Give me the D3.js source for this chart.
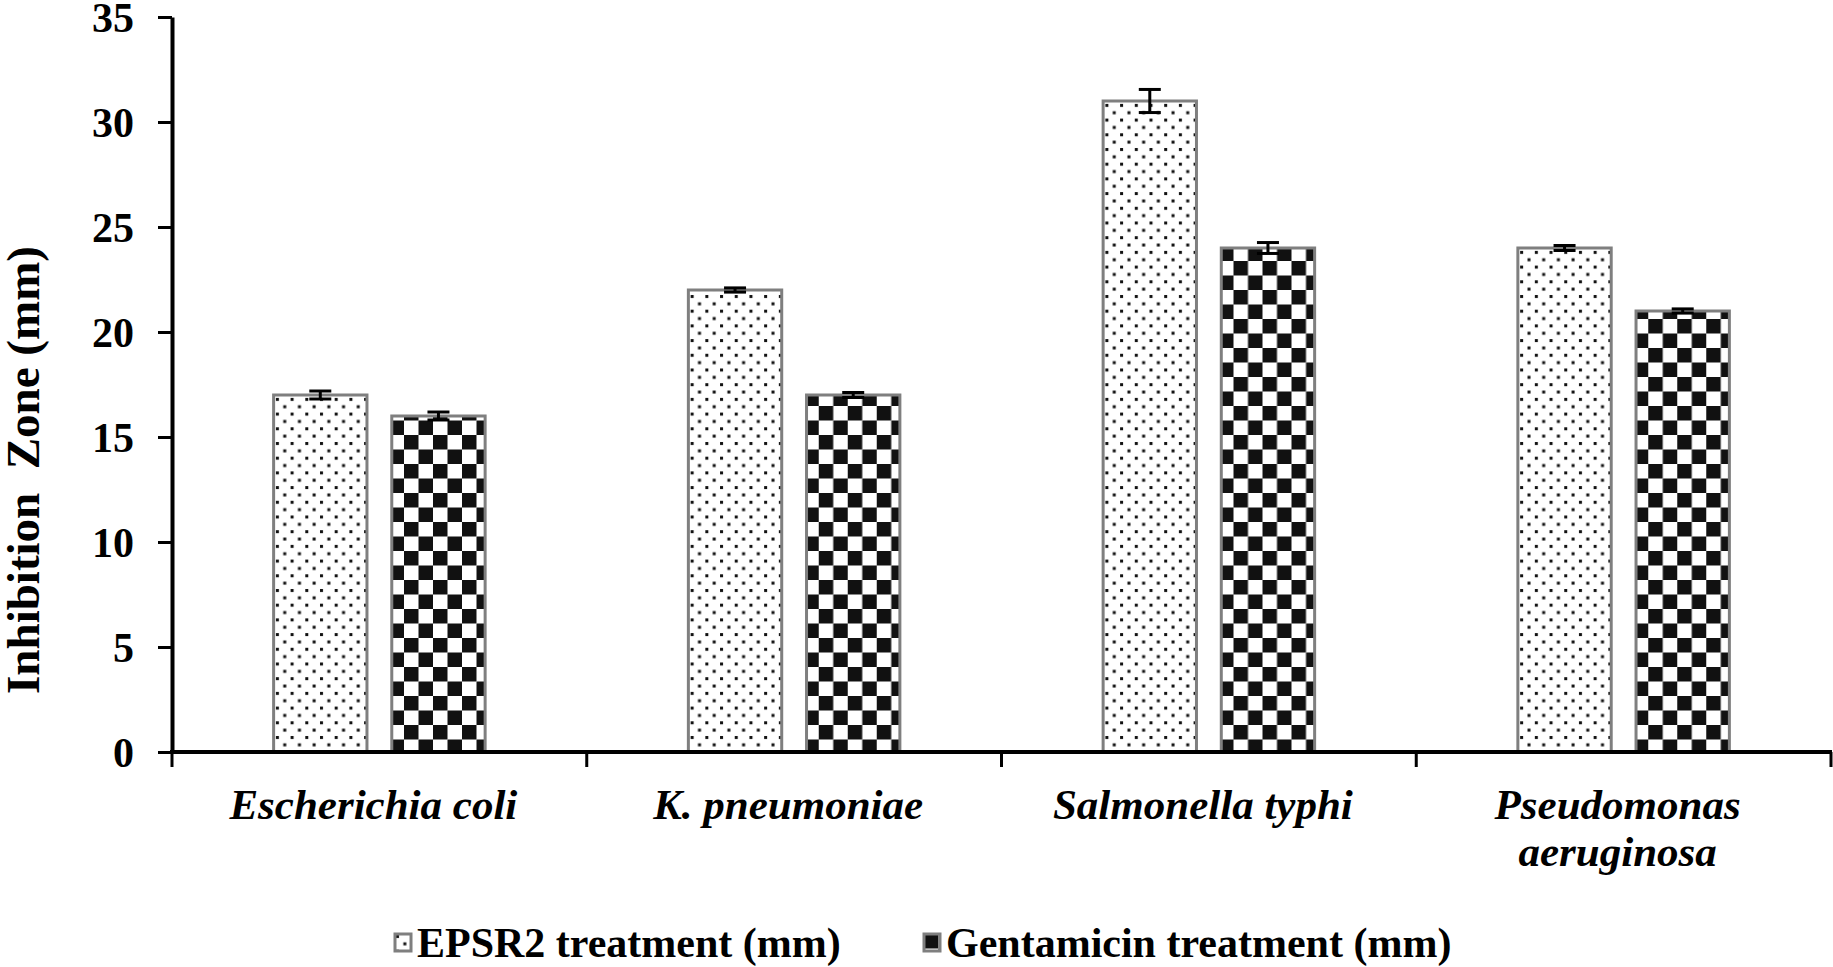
<!DOCTYPE html>
<html>
<head>
<meta charset="utf-8">
<script src="https://cdn.jsdelivr.net/npm/d3@7"></script>
<style>
    body { margin: 0; background: #fff; }
    text { font-family: "Liberation Serif", "Times New Roman", serif; font-weight: bold; fill: #000; }
</style>
</head>
<body>
<div id="chart"></div>
<script>
// chart data
const categories = ["Escherichia coli", "K. pneumoniae", "Salmonella typhi", "Pseudomonas aeruginosa"];
const seriesNames = ["EPSR2 treatment (mm)", "Gentamicin treatment (mm)"];
const epsr2Values = [17, 22, 31, 24];
const epsr2Errors = [0.19, 0.1, 0.55, 0.12];
const gentamicinValues = [16, 17, 24, 21];
const gentamicinErrors = [0.19, 0.12, 0.26, 0.1];
const yTicks = [0, 5, 10, 15, 20, 25, 30, 35];

const WIDTH = 1833,
    HEIGHT = 967,
    LEFT = 172,
    RIGHT = 1831,
    TOP = 17,
    BOTTOM = 752;

let svg = d3.select("#chart").append("svg")
    .attr("width", WIDTH)
    .attr("height", HEIGHT);

let defs = svg.append("defs");

// dotted pattern for EPSR2
let dots = defs.append("pattern")
    .attr("id", "dots")
    .attr("patternUnits", "userSpaceOnUse")
    .attr("width", 14.7)
    .attr("height", 14.7);
dots.append("rect").attr("width", 14.7).attr("height", 14.7).attr("fill", "#fff");
dots.append("rect").attr("x", 1).attr("y", 1).attr("width", 3).attr("height", 3).attr("fill", "#111");
dots.append("rect").attr("x", 8.35).attr("y", 8.35).attr("width", 3).attr("height", 3).attr("fill", "#111");

// checkerboard for gentamicin
let checker = defs.append("pattern")
    .attr("id", "checker")
    .attr("patternUnits", "userSpaceOnUse")
    .attr("width", 29)
    .attr("height", 29);
checker.append("rect").attr("width", 29).attr("height", 29).attr("fill", "#fff");
checker.append("rect").attr("width", 14.5).attr("height", 14.5).attr("fill", "#111");
checker.append("rect").attr("x", 14.5).attr("y", 14.5).attr("width", 14.5).attr("height", 14.5).attr("fill", "#111");

const fills = ["url(#dots)", "url(#checker)"];

let x0 = d3.scaleBand()
    .domain(categories)
    .range([LEFT, RIGHT])
    .padding(0);

let x1 = d3.scaleBand()
    .domain(seriesNames)
    .range([0, x0.bandwidth()])
    .paddingInner(0.21)
    .paddingOuter(0.86);

let y = d3.scaleLinear()
    .domain([0, 35])
    .range([BOTTOM, TOP]);

let rows = categories.map((c, i) => ({
    cat: c,
    vals: [
        { s: seriesNames[0], v: epsr2Values[i], e: epsr2Errors[i], k: 0 },
        { s: seriesNames[1], v: gentamicinValues[i], e: gentamicinErrors[i], k: 1 }
    ]
}));

// bars
let group = svg.append("g")
    .selectAll("g")
    .data(rows)
    .join("g")
    .attr("transform", d => `translate(${x0(d.cat)},0)`);

group.selectAll("rect")
    .data(d => d.vals)
    .join("rect")
    .attr("x", d => x1(d.s))
    .attr("y", d => y(d.v))
    .attr("width", x1.bandwidth())
    .attr("height", d => y(0) - y(d.v))
    .attr("fill", d => fills[d.k])
    .attr("stroke", "#7f7f7f")
    .attr("stroke-width", 3);

// error bars
let err = group.selectAll("g.err")
    .data(d => d.vals)
    .join("g")
    .attr("class", "err")
    .attr("stroke", "#000")
    .attr("stroke-width", 3);

const CAP = 11;
err.append("line")
    .attr("x1", d => x1(d.s) + x1.bandwidth() / 2)
    .attr("x2", d => x1(d.s) + x1.bandwidth() / 2)
    .attr("y1", d => y(d.v + d.e))
    .attr("y2", d => y(d.v - d.e));
err.append("line")
    .attr("x1", d => x1(d.s) + x1.bandwidth() / 2 - CAP)
    .attr("x2", d => x1(d.s) + x1.bandwidth() / 2 + CAP)
    .attr("y1", d => y(d.v + d.e))
    .attr("y2", d => y(d.v + d.e));
err.append("line")
    .attr("x1", d => x1(d.s) + x1.bandwidth() / 2 - CAP)
    .attr("x2", d => x1(d.s) + x1.bandwidth() / 2 + CAP)
    .attr("y1", d => y(d.v - d.e))
    .attr("y2", d => y(d.v - d.e));

// y axis
let yAxis = svg.append("g")
    .attr("transform", `translate(${LEFT},0)`)
    .call(d3.axisLeft(y).tickValues(yTicks).tickSize(14).tickPadding(24).tickSizeOuter(0));
yAxis.select(".domain").attr("stroke", "#000").attr("stroke-width", 4);
yAxis.selectAll(".tick line").attr("stroke", "#000").attr("stroke-width", 3);
yAxis.selectAll(".tick text")
    .style("font-size", "42px")
    .attr("dy", "0.34em");

// x axis with ticks at category boundaries
let bounds = d3.range(categories.length + 1).map(i => LEFT + i * x0.step());
svg.append("line")
    .attr("x1", LEFT - 2)
    .attr("x2", RIGHT + 1)
    .attr("y1", y(0))
    .attr("y2", y(0))
    .attr("stroke", "#000")
    .attr("stroke-width", 4);
svg.append("g")
    .selectAll("line")
    .data(bounds)
    .join("line")
    .attr("x1", d => d)
    .attr("x2", d => d)
    .attr("y1", y(0))
    .attr("y2", y(0) + 15)
    .attr("stroke", "#000")
    .attr("stroke-width", 3);

// category labels
const labelLines = {
    "Pseudomonas aeruginosa": ["Pseudomonas", "aeruginosa"]
};
svg.append("g")
    .selectAll("text")
    .data(categories)
    .join("text")
    .attr("x", d => x0(d) + x0.bandwidth() / 2 - 6)
    .attr("y", 819)
    .attr("text-anchor", "middle")
    .style("font-size", "43px")
    .style("font-style", "italic")
    .each(function (d) {
        let lines = labelLines[d] || [d];
        d3.select(this).selectAll("tspan")
            .data(lines)
            .join("tspan")
            .attr("x", x0(d) + x0.bandwidth() / 2 - 6)
            .attr("dy", (l, i) => i === 0 ? 0 : 47)
            .text(l => l);
    });

// y axis title
svg.append("text")
    .attr("transform", `translate(39,${470}) rotate(-90)`)
    .attr("text-anchor", "middle")
    .style("font-size", "47px")
    .text("Inhibition\u00a0 Zone (mm)");

// legend
const legendX = [395, 924];
let legend = svg.append("g")
    .selectAll("g")
    .data(seriesNames)
    .join("g")
    .attr("transform", (d, i) => `translate(${legendX[i]},934)`);
legend.append("rect")
    .attr("width", 16)
    .attr("height", 17)
    .attr("fill", (d, i) => fills[i])
    .attr("stroke", "#7f7f7f")
    .attr("stroke-width", 3);
legend.append("text")
    .attr("x", 22)
    .attr("y", 23)
    .style("font-size", "42px")
    .text(d => d);
</script>
</body>
</html>
